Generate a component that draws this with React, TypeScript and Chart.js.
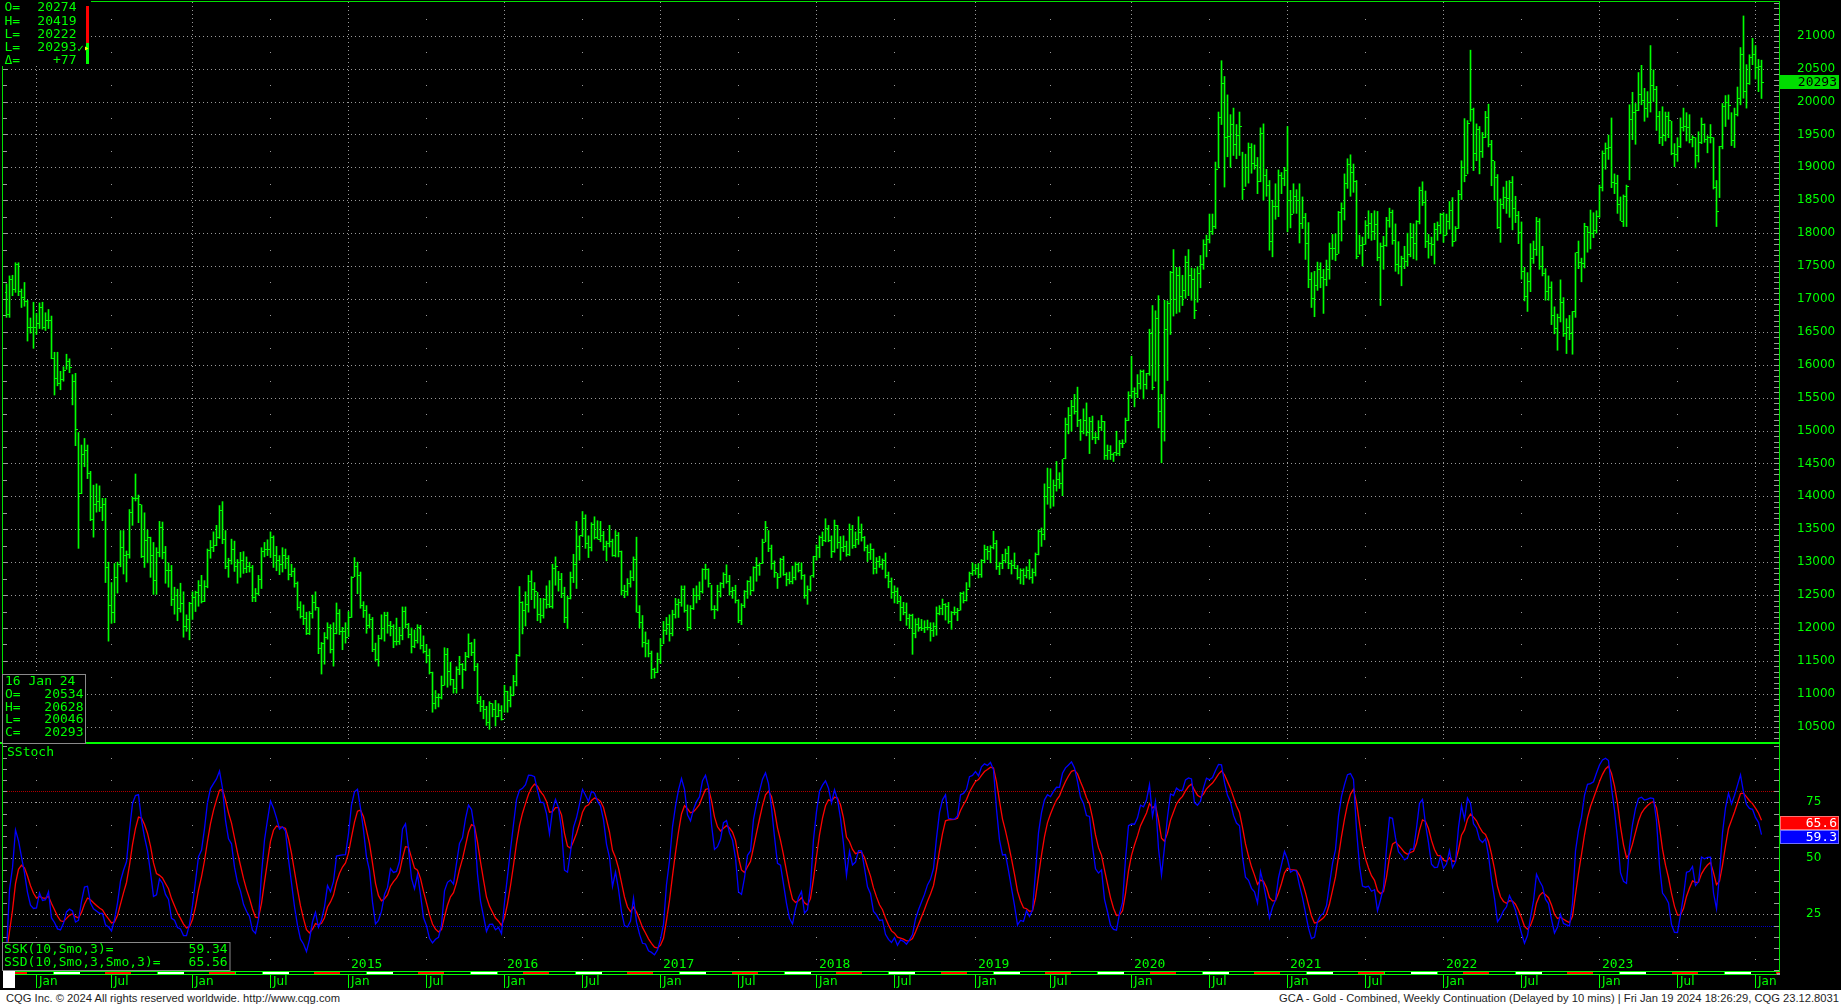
import React, { useEffect, useRef } from 'react';
import { Chart, registerables } from 'chart.js';

Chart.register(...registerables);

type HLC = [number, number, number]; // [high, low, close] of one weekly bar

// ---- weekly bars (high, low, close), first bar = week of 29 Oct 2012 ----
const w2012: HLC[] = [
  [17230, 16720, 16760], [17350, 16720, 17300], [17360, 17050, 17140], [17550, 17100, 17520], [17550, 17050, 17120],
  [17150, 16870, 17020], [17250, 16890, 16960], [16980, 16360, 16570], [16710, 16480, 16570], [16950, 16250, 16570],
];
const w2013: HLC[] = [
  [16780, 16460, 16620], [16940, 16550, 16870], [16950, 16540, 16570], [16790, 16520, 16670],
  [16840, 16550, 16670], [16740, 16090, 16090], [16190, 15540, 15790], [16190, 15680, 15720],
  [15900, 15620, 15780], [15970, 15750, 15920], [16160, 15930, 16050], [16090, 15880, 15960],
  [15850, 15390, 15750], [15870, 14770, 15010], [14970, 13210, 14050], [14780, 14040, 14630], [14880, 14450, 14700],
  [14780, 14270, 14340], [14380, 13630, 13650], [14170, 13380, 13870], [14190, 13760, 13920],
  [14160, 13770, 13830], [13970, 13630, 13880], [13970, 12690, 12920], [13000, 11800, 12340],
  [12690, 12070, 12230], [12980, 12080, 12770], [13000, 12530, 12960], [13480, 12930, 13220], [13480, 12820, 13100],
  [13170, 12700, 13120], [13800, 13060, 13760], [13990, 13560, 13960], [14340, 13930, 13960],
  [14020, 13600, 13870], [13870, 13070, 13080], [13750, 12920, 13330], [13490, 12990, 13380], [13380, 12770, 13100],
  [13300, 12510, 12720], [13220, 12510, 13150], [13620, 13080, 13520], [13610, 13050, 13150],
  [13240, 12680, 12870], [12990, 12620, 12880], [12950, 12340, 12430], [12620, 12210, 12500],
  [12590, 12110, 12300], [12680, 12240, 12370], [12550, 11860, 12030], [12200, 11950, 12130], [12390, 11820, 12370],
];
const w2014: HLC[] = [
  [12550, 12130, 12470], [12560, 12250, 12540], [12720, 12330, 12640], [12800, 12380, 12400],
  [12720, 12400, 12630], [13200, 12610, 13180], [13330, 13060, 13230], [13460, 13160, 13260],
  [13560, 13250, 13380], [13860, 13360, 13790], [13920, 13280, 13350], [13480, 12900, 12940], [13060, 12770, 13030],
  [13350, 12970, 13190], [13320, 12860, 12940], [13040, 12680, 13000], [13150, 12770, 13020],
  [13160, 12830, 12900], [13080, 12840, 12930], [13000, 12850, 12920], [12950, 12400, 12460],
  [12600, 12400, 12530], [12800, 12500, 12740], [13220, 12600, 13160], [13300, 13080, 13200], [13340, 13100, 13200],
  [13460, 13070, 13380], [13400, 12920, 13100], [13240, 12870, 13030], [13100, 12810, 12960],
  [13220, 12850, 13100], [13200, 12900, 13060], [13100, 12730, 12810], [12970, 12780, 12860],
  [12910, 12620, 12680], [12700, 12270, 12310], [12400, 12150, 12170], [12350, 12050, 12140], [12240, 11900, 11920],
  [12250, 11900, 12220], [12500, 12150, 12390], [12550, 12270, 12310], [12310, 11610, 11690],
  [11780, 11300, 11770], [11930, 11450, 11860], [12080, 11830, 12010], [12050, 11620, 11670],
  [12080, 11420, 11910], [12380, 11910, 12220], [12280, 11900, 11950], [12010, 11670, 11950], [12080, 11770, 11860],
];
const w2015: HLC[] = [
  [12250, 11870, 12160], [12780, 12160, 12770], [13070, 12780, 12930], [13000, 12520, 12790],
  [12850, 12300, 12340], [12400, 12160, 12270], [12340, 11920, 12040], [12210, 12000, 12130],
  [12160, 11640, 11670], [11770, 11500, 11520], [11890, 11420, 11840], [12200, 11830, 11990], [12240, 11800, 12190],
  [12240, 11920, 12040], [12100, 11880, 12030], [12050, 11700, 11790], [12150, 11740, 11790],
  [12010, 11750, 11890], [12320, 11820, 12250], [12320, 12000, 12050], [12070, 11850, 11900],
  [12000, 11620, 11720], [11970, 11700, 11810], [12050, 11770, 12010], [12040, 11680, 11730], [11880, 11620, 11640],
  [11750, 11470, 11580], [11680, 11300, 11330], [11330, 10720, 10850], [11050, 10770, 10950],
  [11000, 10800, 10940], [11270, 10920, 11130], [11700, 11130, 11600], [11690, 11100, 11340], [11480, 11130, 11210],
  [11220, 11010, 11080], [11410, 11010, 11370], [11570, 11290, 11450], [11460, 11080, 11370],
  [11630, 11350, 11560], [11910, 11550, 11770], [11780, 11580, 11620], [11830, 11350, 11420],
  [11460, 10850, 10880], [10960, 10730, 10810], [10900, 10620, 10760], [10810, 10520, 10570], [10880, 10460, 10850],
  [10850, 10650, 10760], [10900, 10510, 10650], [10850, 10650, 10750], [10820, 10600, 10610],
];
const w2016: HLC[] = [
  [11130, 10720, 11040], [11040, 10720, 10900], [11110, 10800, 10980], [11280, 10970, 11180],
  [11600, 11120, 11580], [12630, 11570, 12390], [12400, 11910, 12270], [12550, 12030, 12350], [12800, 12240, 12700],
  [12870, 12430, 12590], [12690, 12300, 12550], [12540, 12110, 12210], [12450, 12080, 12190],
  [12450, 12150, 12430], [12640, 12300, 12350], [12720, 12310, 12320], [12970, 12300, 12900],
  [13080, 12650, 12940], [12860, 12560, 12730], [12830, 12460, 12520], [12620, 12080, 12160], [12480, 11990, 12450],
  [12850, 12440, 12760], [13120, 12690, 12960], [13620, 12600, 13240], [13400, 13030, 13400],
  [13770, 13390, 13660], [13720, 13210, 13290], [13400, 13070, 13230], [13600, 13170, 13570],
  [13690, 13350, 13370], [13630, 13350, 13350], [13620, 13310, 13410], [13470, 13180, 13240], [13320, 13020, 13280],
  [13560, 13230, 13310], [13350, 13090, 13100], [13480, 13080, 13400], [13450, 13080, 13160],
  [13170, 12500, 12570], [12650, 12460, 12550], [12750, 12490, 12670], [12870, 12620, 12760], [13080, 12720, 13040],
  [13380, 12240, 12240], [12340, 12000, 12080], [12190, 11710, 11780], [11940, 11560, 11770],
  [11820, 11560, 11610], [11650, 11230, 11370], [11390, 11240, 11330], [11620, 11320, 11520],
];
const w2017: HLC[] = [
  [11840, 11460, 11730], [12100, 11760, 11960], [12160, 11900, 12050], [12200, 11800, 11910], [12270, 11880, 12210],
  [12450, 12150, 12350], [12440, 12160, 12390], [12640, 12330, 12580], [12640, 12240, 12260],
  [12350, 11960, 12010], [12340, 11980, 12300], [12600, 12280, 12490], [12640, 12380, 12490],
  [12700, 12430, 12550], [12900, 12530, 12890], [12970, 12740, 12890], [12900, 12620, 12680],
  [12650, 12270, 12280], [12340, 12140, 12280], [12650, 12260, 12550], [12690, 12470, 12680], [12840, 12610, 12810],
  [12960, 12680, 12710], [12800, 12500, 12560], [12620, 12450, 12570], [12650, 12380, 12420],
  [12430, 12080, 12120], [12370, 12050, 12340], [12570, 12310, 12560], [12720, 12450, 12700], [12780, 12500, 12570],
  [12930, 12560, 12920], [13070, 12710, 12950], [12980, 12800, 12980], [13350, 12980, 13300],
  [13620, 13310, 13520], [13480, 13160, 13210], [13260, 12890, 12980], [13020, 12770, 12840],
  [12830, 12600, 12770], [13060, 12770, 13040], [13090, 12800, 12820], [12840, 12640, 12730], [12850, 12670, 12700],
  [12940, 12670, 12760], [13000, 12730, 12960], [12990, 12850, 12880], [12990, 12740, 12800],
  [12810, 12450, 12490], [12640, 12360, 12580], [12790, 12560, 12790], [13090, 12770, 13090],
];
const w2018: HLC[] = [
  [13260, 13030, 13220], [13400, 13070, 13380], [13460, 13250, 13330], [13660, 13310, 13510], [13560, 13310, 13330],
  [13400, 13070, 13160], [13640, 13150, 13560], [13560, 13210, 13300], [13390, 13030, 13230],
  [13400, 13160, 13240], [13320, 13090, 13120], [13580, 13100, 13500], [13560, 13210, 13250],
  [13460, 13220, 13340], [13690, 13270, 13450], [13580, 13320, 13380], [13390, 13170, 13230], [13260, 13010, 13150],
  [13280, 13040, 13200], [13200, 12820, 12910], [13070, 12830, 13010], [13090, 12920, 12970],
  [13050, 12890, 13020], [13140, 12760, 12790], [12850, 12610, 12700], [12760, 12450, 12540],
  [12640, 12380, 12550], [12610, 12370, 12410], [12480, 12110, 12310], [12390, 12200, 12230], [12380, 12040, 12140],
  [12210, 11990, 12190], [12210, 11600, 11920], [12140, 11850, 12060], [12150, 11950, 12010],
  [12130, 11960, 11990], [12110, 11930, 12010], [12120, 11970, 12010], [12080, 11800, 11960],
  [12080, 11870, 12030], [12320, 11890, 12220], [12340, 12200, 12290], [12440, 12200, 12360], [12370, 12120, 12330],
  [12390, 12070, 12100], [12250, 11980, 12230], [12320, 12200, 12230], [12300, 12110, 12260],
  [12540, 12270, 12520], [12550, 12380, 12420], [12690, 12410, 12580], [12850, 12620, 12830], [12990, 12800, 12870],
];
const w2019: HLC[] = [
  [12970, 12810, 12910], [12980, 12760, 12820], [13040, 12770, 13030], [13260, 12990, 13200],
  [13240, 13040, 13160], [13250, 12990, 13220], [13470, 13200, 13290], [13330, 12890, 12930],
  [13000, 12810, 12980], [13120, 12900, 13030], [13200, 12990, 13130], [13240, 12900, 12980],
  [13030, 12820, 12950], [13140, 12900, 12900], [12950, 12740, 12760], [12900, 12670, 12880], [12900, 12660, 12800],
  [12930, 12760, 12870], [13040, 12740, 12770], [12900, 12680, 12850], [13140, 12790, 13110],
  [13490, 13110, 13460], [13520, 13240, 13420], [14190, 13340, 14000], [14430, 13880, 14130],
  [14420, 13820, 14000], [14250, 13850, 14160], [14530, 14080, 14260], [14360, 14120, 14190], [14560, 14010, 14570],
  [15190, 14570, 15090], [15350, 14950, 15230], [15460, 14990, 15370], [15550, 15250, 15290],
  [15660, 15060, 15150], [15170, 14850, 14990], [15330, 14950, 15150], [15420, 14920, 14970], [15200, 14650, 15130],
  [15220, 14860, 14890], [14970, 14800, 14900], [15150, 14860, 15050], [15230, 15000, 15130],
  [15140, 14560, 14620], [14780, 14560, 14690], [14770, 14560, 14630], [14660, 14530, 14660],
  [14990, 14620, 14650], [14850, 14620, 14810], [14860, 14740, 14810], [15190, 14820, 15150], [15590, 15150, 15530],
];
const w2020: HLC[] = [
  [16130, 15490, 15600], [15650, 15360, 15570], [15850, 15500, 15710], [15920, 15630, 15890],
  [15920, 15480, 15700], [15870, 15630, 15860], [16540, 15840, 16480], [16900, 15620, 15660],
  [16820, 15750, 16700], [17050, 15040, 15290], [15550, 14510, 14990], [16980, 14840, 16540], [16970, 15760, 16930],
  [17420, 16460, 17400], [17750, 16740, 16990], [17480, 16780, 17360], [17480, 16800, 17040],
  [17360, 16900, 17130], [17650, 17010, 17560], [17750, 17050, 17350], [17470, 16980, 17300],
  [17460, 16700, 16830], [17490, 16950, 17380], [17660, 17170, 17530], [17900, 17450, 17820], [17970, 17640, 17900],
  [18290, 17850, 18030], [18290, 17980, 18100], [19080, 18070, 18970], [19840, 18990, 19760],
  [20620, 19650, 20280], [20380, 18700, 19450], [20100, 19160, 19470], [19800, 19000, 19650], [19900, 19180, 19340],
  [19650, 19130, 19480], [19840, 19180, 19620], [19230, 18510, 18660], [19200, 18710, 19000],
  [19370, 18760, 19300], [19360, 18910, 19060], [19340, 18970, 19020], [19150, 18600, 18790],
  [19600, 18780, 19510], [19660, 18500, 18870], [18970, 18560, 18730], [18800, 17740, 17880], [18500, 17640, 18400],
  [18750, 18210, 18400], [18960, 18250, 18880], [18920, 18600, 18830], [19000, 18720, 18950],
];
const w2021: HLC[] = [
  [19620, 18020, 18500], [18650, 18080, 18290], [18750, 18300, 18560], [18660, 18300, 18500],
  [18750, 17850, 18140], [18550, 18070, 18230], [18300, 17600, 17840], [18160, 17170, 17300],
  [17400, 16870, 17000], [17420, 16730, 17200], [17560, 17130, 17450], [17550, 17170, 17330], [17450, 16780, 17290],
  [17590, 17200, 17450], [17850, 17300, 17770], [17980, 17600, 17770], [17990, 17580, 17680],
  [18330, 17690, 18310], [18460, 17880, 18380], [18900, 18200, 18760], [19130, 18680, 19040], [19190, 18560, 18920],
  [19050, 18620, 18790], [18800, 17610, 17640], [17970, 17680, 17810], [17940, 17500, 17830],
  [18190, 17830, 18110], [18340, 17920, 18150], [18300, 17890, 18020], [18340, 17900, 18130],
  [18330, 17580, 17630], [17850, 16900, 17790], [17950, 17450, 17810], [18240, 17800, 18190], [18380, 18090, 18320],
  [18350, 17830, 17890], [18140, 17420, 17520], [17870, 17380, 17500], [17650, 17200, 17610],
  [17800, 17460, 17570], [18000, 17500, 17670], [18150, 17640, 17930], [18140, 17610, 17840],
  [18190, 17590, 18170], [18700, 18140, 18650], [18780, 18420, 18460], [18640, 17780, 17880], [17980, 17620, 17840],
  [17940, 17660, 17830], [18150, 17530, 18050], [18170, 17890, 18110], [18300, 17990, 18280],
];
const w2022: HLC[] = [
  [18310, 17860, 17970], [18290, 17970, 18170], [18480, 18060, 18350], [18540, 17800, 17870], [18100, 17880, 18070],
  [18650, 18070, 18590], [19100, 18510, 18990], [19740, 18780, 18870], [19710, 18900, 19660],
  [20780, 19700, 19880], [19900, 18950, 19210], [19660, 19100, 19580], [19620, 18900, 19240],
  [19530, 19150, 19450], [19850, 19450, 19750], [19960, 19310, 19340], [19410, 18720, 19110],
  [19090, 18500, 18850], [18890, 18070, 18090], [18520, 17860, 18440], [18700, 18370, 18540], [18790, 18300, 18530],
  [18800, 18240, 18770], [18860, 18050, 18380], [18560, 18160, 18270], [18330, 17840, 18010],
  [18170, 17300, 17420], [17480, 16970, 17030], [17400, 16810, 17270], [17840, 17110, 17620],
  [17880, 17540, 17750], [18240, 17660, 18180], [18220, 17450, 17500], [17800, 17350, 17380], [17460, 16980, 17120],
  [17350, 16980, 17180], [17260, 16610, 16750], [16880, 16470, 16550], [16770, 16220, 16720],
  [17290, 16650, 16950], [17020, 16430, 16480], [16700, 16170, 16560], [16750, 16380, 16480], [16810, 16160, 16810],
  [17700, 16720, 17700], [17880, 17460, 17550], [17620, 17260, 17540], [18150, 17470, 18100],
  [18100, 17710, 18010], [18350, 17760, 18000], [18310, 17930, 18040], [18340, 18000, 18260],
];
const w2023: HLC[] = [
  [18730, 18240, 18700], [19250, 18640, 19210], [19370, 18970, 19290], [19490, 19120, 19300], [19750, 18690, 18770],
  [18900, 18600, 18750], [18880, 18300, 18430], [18550, 18190, 18170], [18580, 18100, 18560],
  [18730, 18100, 18710], [19950, 18810, 19730], [20140, 19420, 19830], [19970, 19350, 19860],
  [20440, 19860, 20110], [20550, 19950, 20020], [20200, 19700, 19900], [20150, 19760, 19990],
  [20850, 19840, 20250], [20480, 20000, 20190], [20230, 19560, 19770], [19850, 19360, 19450], [19920, 19330, 19480],
  [19840, 19400, 19770], [19840, 19450, 19710], [19700, 19190, 19210], [19360, 19010, 19190],
  [19450, 19090, 19320], [19750, 19300, 19610], [19900, 19550, 19620], [19830, 19400, 19600], [19800, 19370, 19420],
  [19480, 19310, 19460], [19450, 18990, 19180], [19540, 19080, 19380], [19750, 19360, 19650],
  [19660, 19380, 19430], [19480, 19220, 19460], [19650, 19370, 19450], [19450, 18670, 18700],
  [18800, 18100, 18330], [19320, 18540, 19320], [19970, 19280, 19930], [20090, 19620, 19990], [20100, 19730, 19940],
  [19830, 19330, 19400], [19900, 19300, 19810], [20220, 19780, 20050], [20820, 19950, 20720],
  [21300, 20050, 20150], [20560, 19900, 20280], [20710, 20260, 20670], [20960, 20560, 20720],
];
const w2024: HLC[] = [
  [20850, 20340, 20520], [20640, 20150, 20534], [20628, 20046, 20293],
];
const FIRST_OPEN = 17100;
const FIRST_WEEK = Date.UTC(2012, 9, 29);

// ---- axis / label data ----
const priceTickValues = [10500, 11000, 11500, 12000, 12500, 13000, 13500, 14000, 14500, 15000, 15500, 16000,
  16500, 17000, 17500, 18000, 18500, 19000, 19500, 20000, 20500, 21000];
const stochTickValues = [25, 50, 75];
const stochOverbought = 80;
const stochOversold = 20;
const yearLabels = ['2015', '2016', '2017', '2018', '2019', '2020', '2021', '2022', '2023'];
const dailyLabels = ['O=', 'H=', 'L=', 'L=', '\u0394='];
const dailyValues = ['20274', '20419', '20222', '20293', '+77'];
const lastBarLabels = ['O=', 'H=', 'L=', 'C='];
const lastBarValues = ['20534', '20628', '20046', '20293'];
const lastBarDate = '16 Jan 24';
const stochNames = ['SSK(10,Smo,3)=', 'SSD(10,Smo,3,Smo,3)='];
const stochValues = [59.34, 65.56];
const STOCH_PERIOD = 10;
const STOCH_SMOOTH = 3;

// ---- derived series ----
const bars: HLC[] = [...w2012, ...w2013, ...w2014, ...w2015, ...w2016, ...w2017, ...w2018, ...w2019,
  ...w2020, ...w2021, ...w2022, ...w2023, ...w2024];
const highs = bars.map((b) => b[0]);
const lows = bars.map((b) => b[1]);
const closes = bars.map((b) => b[2]);
const opens = closes.map((c, i) => (i === 0 ? FIRST_OPEN : closes[i - 1]));
const weekDates = bars.map((_, i) => new Date(FIRST_WEEK + i * 7 * 86400000));

const monthTicks: { i: number; label: string; year: number }[] = [];
weekDates.forEach((d, i) => {
  const m = d.getUTCMonth();
  const pm = i > 0 ? weekDates[i - 1].getUTCMonth() : -1;
  if ((m === 0 || m === 6) && m !== pm) monthTicks.push({ i, label: m === 0 ? 'Jan' : 'Jul', year: d.getUTCFullYear() });
});

function smooth(src: number[], n: number): number[] {
  const out: number[] = [];
  let prev: number | null = null;
  for (const v of src) {
    prev = prev === null ? v : (prev * (n - 1) + v) / n;
    out.push(prev);
  }
  return out;
}
const rawK = closes.map((c, i) => {
  const s = Math.max(0, i - STOCH_PERIOD + 1);
  const hh = Math.max(...highs.slice(s, i + 1));
  const ll = Math.min(...lows.slice(s, i + 1));
  return hh === ll ? 50 : (100 * (c - ll)) / (hh - ll);
});
const ssk = smooth(rawK, STOCH_SMOOTH);
const ssd = smooth(ssk, STOCH_SMOOTH);

// ---- styling ----
const GREEN = '#00ff00';
const FRAME = '#00e000';
const GRID = '#9a9a9a';
const BOXLINE = '#8a8a8a';
const MONO = '13px "DejaVu Sans Mono", "Liberation Mono", monospace';
const SANS = '12px "DejaVu Sans", sans-serif';
const X_MIN = -7 / 6;
const X_MAX = 590 + 5 / 6;

const col = (x: any, i: number) => Math.round(x.getPixelForValue(i) - 0.5);

const pricePlugin = {
  id: 'pricePanel',
  beforeDraw(chart: any) {
    const ctx = chart.ctx;
    ctx.save();
    ctx.fillStyle = '#000';
    ctx.fillRect(0, 0, chart.width, chart.height);
    ctx.restore();
  },
  beforeDatasetsDraw(chart: any) {
    const { ctx, chartArea: a, scales } = chart;
    const x = scales.x, y = scales.y;
    ctx.save();
    ctx.strokeStyle = GRID;
    ctx.lineWidth = 1;
    ctx.setLineDash([1, 3]);
    ctx.beginPath();
    for (const v of priceTickValues) {
      const py = Math.round(y.getPixelForValue(v)) + 0.5;
      ctx.moveTo(a.left, py);
      ctx.lineTo(a.right, py);
    }
    for (const t of monthTicks) {
      if (t.label !== 'Jan') continue;
      const px = col(x, t.i) + 0.5;
      ctx.moveTo(px, a.top);
      ctx.lineTo(px, a.bottom);
    }
    ctx.stroke();
    ctx.setLineDash([]);
    ctx.fillStyle = GRID;
    for (const t of monthTicks) {
      if (t.label !== 'Jul') continue;
      const px = col(x, t.i);
      for (let v = priceTickValues[0] - 250; v < y.max; v += 500) {
        const py = Math.round(y.getPixelForValue(v));
        if (py > a.top && py < a.bottom) ctx.fillRect(px, py, 1, 1);
      }
    }
    for (let v = priceTickValues[0] - 250; v < y.max; v += 250) {
      const py = Math.round(y.getPixelForValue(v));
      if (py > a.top && py < a.bottom) ctx.fillRect(a.left, py, 4, 1);
    }
    for (let v = priceTickValues[0] - 500; v < y.max; v += 500 / 6) {
      const py = Math.round(y.getPixelForValue(v));
      if (py > a.top && py < a.bottom) ctx.fillRect(a.right - 5, py, 5, 1);
    }
    ctx.restore();
  },
  afterDatasetsDraw(chart: any) {
    const { ctx, scales } = chart;
    const x = scales.x, y = scales.y;
    ctx.save();
    ctx.fillStyle = GREEN;
    for (let i = 0; i < closes.length; i++) {
      const c = col(x, i);
      ctx.fillRect(c - 1, Math.round(y.getPixelForValue(opens[i]) - 0.5), 1, 1);
      ctx.fillRect(c + 1, Math.round(y.getPixelForValue(closes[i]) - 0.5), 2, 1);
    }
    ctx.restore();
  },
  afterDraw(chart: any) {
    const { ctx, chartArea: a, scales } = chart;
    const y = scales.y;
    ctx.save();
    // frame
    ctx.fillStyle = FRAME;
    ctx.fillRect(a.left - 1, a.top - 1, a.right - a.left + 2, 1);
    ctx.fillRect(a.left - 1, a.top - 1, 1, a.bottom - a.top + 1);
    ctx.fillRect(a.right, a.top - 1, 1, a.bottom - a.top + 1);
    ctx.fillStyle = GREEN;
    ctx.fillRect(0, a.bottom, a.right + 1, 2);

    // daily info (top-left)
    ctx.fillStyle = '#000';
    ctx.fillRect(0, 0, 91, 66);
    ctx.font = MONO;
    ctx.textBaseline = 'middle';
    const rows = [8, 21.5, 35, 48, 61];
    ctx.fillStyle = GREEN;
    dailyLabels.forEach((l, k) => {
      ctx.textAlign = 'left';
      ctx.fillText(l, 4.5, rows[k]);
      ctx.textAlign = 'right';
      ctx.fillText(dailyValues[k], 76.5, rows[k]);
    });
    ctx.textAlign = 'left';
    ctx.font = '10px "DejaVu Sans", sans-serif';
    ctx.fillText('\u2713', 76.5, rows[3] + 1);
    ctx.fillStyle = '#ff0000';
    ctx.fillRect(86, 6, 3, 37);
    ctx.fillStyle = GREEN;
    ctx.fillRect(86, 43, 3, 21);
    ctx.fillStyle = '#ffff00';
    ctx.beginPath();
    ctx.moveTo(85, 46.5);
    ctx.lineTo(88.5, 48.5);
    ctx.lineTo(85, 50.5);
    ctx.closePath();
    ctx.fill();

    // last bar info (bottom-left)
    ctx.fillStyle = '#000';
    ctx.fillRect(2, 674, 84, 70);
    ctx.strokeStyle = BOXLINE;
    ctx.lineWidth = 1;
    ctx.strokeRect(2.5, 674.5, 83, 69);
    ctx.font = MONO;
    ctx.fillStyle = GREEN;
    ctx.textAlign = 'left';
    ctx.fillText(lastBarDate, 5, 682);
    const rows2 = [694.7, 707.3, 720, 733];
    lastBarLabels.forEach((l, k) => {
      ctx.textAlign = 'left';
      ctx.fillText(l, 5, rows2[k]);
      ctx.textAlign = 'right';
      ctx.fillText(lastBarValues[k], 83.5, rows2[k]);
    });

    // current price box
    const last = closes[closes.length - 1];
    const py = Math.round(y.getPixelForValue(last));
    ctx.fillStyle = '#00dd00';
    ctx.fillRect(a.right + 1, py - 7, 59, 14);
    ctx.fillStyle = '#000';
    ctx.font = MONO;
    ctx.textAlign = 'right';
    ctx.fillText(String(last), 1837, py + 0.5);
    ctx.restore();
  },
};

const stochPlugin = {
  id: 'stochPanel',
  beforeDraw(chart: any) {
    const ctx = chart.ctx;
    ctx.save();
    ctx.fillStyle = '#000';
    ctx.fillRect(0, 0, chart.width, chart.height);
    ctx.restore();
  },
  beforeDatasetsDraw(chart: any) {
    const { ctx, chartArea: a, scales } = chart;
    const x = scales.x, y = scales.y;
    ctx.save();
    ctx.lineWidth = 1;
    ctx.setLineDash([1, 3]);
    ctx.strokeStyle = GRID;
    ctx.beginPath();
    for (const v of stochTickValues) {
      const py = Math.round(y.getPixelForValue(v)) + 0.5;
      ctx.moveTo(a.left, py);
      ctx.lineTo(a.right, py);
    }
    ctx.stroke();
    ctx.setLineDash([1, 1]);
    ctx.strokeStyle = '#b00000';
    ctx.beginPath();
    let py = Math.round(y.getPixelForValue(stochOverbought)) + 0.5;
    ctx.moveTo(a.left, py);
    ctx.lineTo(a.right, py);
    ctx.stroke();
    ctx.strokeStyle = '#0000c8';
    ctx.beginPath();
    py = Math.round(y.getPixelForValue(stochOversold)) + 0.5;
    ctx.moveTo(a.left, py);
    ctx.lineTo(a.right, py);
    ctx.stroke();
    ctx.setLineDash([]);
    ctx.fillStyle = GRID;
    for (const t of monthTicks) {
      const px = col(x, t.i);
      for (let v = 5; v < 100; v += 10) ctx.fillRect(px, Math.round(y.getPixelForValue(v)), 1, 1);
    }
    for (let v = 0; v <= 100; v += 5) {
      const p = Math.round(y.getPixelForValue(v));
      if (p > a.top && p < a.bottom) {
        ctx.fillRect(a.left, p, 4, 1);
        ctx.fillRect(a.right - 5, p, 5, 1);
      }
    }
    ctx.restore();
  },
  afterDraw(chart: any) {
    const { ctx, chartArea: a, scales } = chart;
    const x = scales.x, y = scales.y;
    ctx.save();
    ctx.fillStyle = FRAME;
    ctx.fillRect(a.left - 1, a.top, 1, a.bottom - a.top);
    ctx.fillRect(a.right, a.top, 1, a.bottom - a.top);

    ctx.font = MONO;
    ctx.textBaseline = 'middle';
    ctx.textAlign = 'left';
    ctx.fillStyle = GREEN;
    ctx.fillText('SStoch', 7, 8.7);

    // time strip
    const band = a.bottom;
    ctx.fillStyle = GREEN;
    ctx.fillRect(a.left, band, a.right - a.left + 1, 4);
    for (let k = -1; k < 20; k++) {
      const r0 = 0.55 + 104.45 * k;
      const w0 = 53.6 + 104.45 * k;
      ctx.fillStyle = '#ff0000';
      ctx.fillRect(Math.max(a.left, Math.round(r0)), band + 1, 26, 2);
      ctx.fillStyle = '#000';
      ctx.fillRect(Math.max(a.left, Math.round(r0 + 26.1)), band + 1, 26, 2);
      ctx.fillStyle = '#ffffff';
      ctx.fillRect(Math.max(a.left, Math.round(w0)), band + 1, 26, 2);
      ctx.fillStyle = '#000';
      ctx.fillRect(Math.max(a.left, Math.round(w0 + 26.1)), band + 1, 26, 2);
    }
    ctx.fillStyle = '#000';
    ctx.fillRect(a.right + 1, band, 70, 6);
    ctx.fillStyle = GRID;
    ctx.fillRect(a.right - 2, band + 2, 3, 2);
    ctx.fillStyle = '#ffffff';
    ctx.fillRect(3, band - 2, 12, 19);

    ctx.fillStyle = GREEN;
    for (const t of monthTicks) {
      const px = col(x, t.i);
      ctx.fillRect(px, band + 4, 1, 13);
      ctx.font = SANS;
      ctx.fillText(t.label, px + 3, band + 11);
      const yl = String(t.year);
      if (t.label === 'Jan' && yearLabels.includes(yl)) {
        ctx.font = MONO;
        ctx.fillText(yl, px + 3, band - 6.5);
      }
    }

    // SSK / SSD box
    ctx.fillStyle = '#000';
    ctx.fillRect(2, 198, 229, 29);
    ctx.strokeStyle = BOXLINE;
    ctx.lineWidth = 1;
    ctx.strokeRect(2.5, 198.5, 227.5, 28);
    ctx.font = MONO;
    ctx.fillStyle = GREEN;
    const rr = [206, 218.7];
    stochNames.forEach((n, k) => {
      ctx.textAlign = 'left';
      ctx.fillText(n, 4, rr[k]);
      ctx.textAlign = 'right';
      ctx.fillText(stochValues[k].toFixed(2), 227.7, rr[k]);
    });

    // value boxes on the right axis
    const boxes = [
      { v: stochValues[1], fill: '#ff0000', line: '#ff7070' },
      { v: stochValues[0], fill: '#0000ff', line: '#7070ff' },
    ];
    for (const b of boxes) {
      const p = Math.round(y.getPixelForValue(b.v));
      ctx.fillStyle = b.fill;
      ctx.fillRect(a.right + 1, p - 7, 59, 14);
      ctx.strokeStyle = b.line;
      ctx.strokeRect(a.right + 1.5, p - 6.5, 58, 13);
      ctx.fillStyle = '#ffffff';
      ctx.textAlign = 'right';
      ctx.fillText(b.v.toFixed(1), 1837, p + 0.5);
    }
    ctx.restore();
  },
};

function fixedAxisWidth(scale: any) {
  scale.width = 62;
  scale.paddingTop = 0;
  scale.paddingBottom = 0;
}

export default function App() {
  const priceRef = useRef<HTMLCanvasElement>(null);
  const stochRef = useRef<HTMLCanvasElement>(null);

  useEffect(() => {
    document.body.style.margin = '0';
    document.body.style.background = '#ffffff';

    const priceChart = new Chart(priceRef.current as HTMLCanvasElement, {
      type: 'bar',
      data: {
        datasets: [
          {
            label: 'GCA weekly range',
            data: bars.map((b, i) => ({ x: i, y: [lows[i], highs[i]] })) as any,
            backgroundColor: GREEN,
            borderWidth: 0,
            barThickness: 1,
            grouped: false,
          } as any,
        ],
      },
      options: {
        animation: false,
        responsive: false,
        events: [],
        layout: { padding: { left: 3, top: 2, right: 0, bottom: 2 } },
        plugins: { legend: { display: false }, tooltip: { enabled: false } },
        scales: {
          x: { type: 'linear', min: X_MIN, max: X_MAX, display: false, offset: false, grid: { offset: false } } as any,
          y: {
            type: 'linear',
            position: 'right',
            min: 10267.5,
            max: 21512,
            beginAtZero: false,
            grid: { display: false, drawTicks: false },
            border: { display: false },
            afterBuildTicks: (s: any) => { s.ticks = priceTickValues.map((v) => ({ value: v })); },
            afterFit: fixedAxisWidth,
            ticks: {
              autoSkip: false,
              padding: 18,
              color: GREEN,
              font: { family: '"DejaVu Sans", sans-serif', size: 12 },
              callback: (v: any) => String(v),
            },
          } as any,
        },
      },
      plugins: [pricePlugin],
    });

    const stochChart = new Chart(stochRef.current as HTMLCanvasElement, {
      type: 'line',
      data: {
        datasets: [
          {
            label: 'SSK',
            data: ssk.map((v, i) => ({ x: i, y: v })),
            borderColor: '#0000ff',
            borderWidth: 1.3,
            pointRadius: 0,
            tension: 0,
          },
          {
            label: 'SSD',
            data: ssd.map((v, i) => ({ x: i, y: v })),
            borderColor: '#ff0000',
            borderWidth: 1.3,
            pointRadius: 0,
            tension: 0,
          },
        ],
      },
      options: {
        animation: false,
        responsive: false,
        events: [],
        layout: { padding: { left: 3, top: 0, right: 0, bottom: 19 } },
        plugins: { legend: { display: false }, tooltip: { enabled: false } },
        scales: {
          x: { type: 'linear', min: X_MIN, max: X_MAX, display: false } as any,
          y: {
            type: 'linear',
            position: 'right',
            min: -0.31,
            max: 101.03,
            grid: { display: false, drawTicks: false },
            border: { display: false },
            afterBuildTicks: (s: any) => { s.ticks = stochTickValues.map((v) => ({ value: v })); },
            afterFit: fixedAxisWidth,
            ticks: {
              autoSkip: false,
              padding: 27,
              color: GREEN,
              font: { family: '"DejaVu Sans", sans-serif', size: 12 },
              callback: (v: any) => String(v),
            },
          } as any,
        },
      },
      plugins: [stochPlugin],
    });

    return () => {
      priceChart.destroy();
      stochChart.destroy();
    };
  }, []);

  const footerFont = '11.2px "Liberation Sans", Arial, sans-serif';
  return (
    <div style={{ position: 'relative', width: 1841, height: 1008, background: '#ffffff', overflow: 'hidden' }}>
      <canvas ref={priceRef} width={1841} height={744} style={{ position: 'absolute', left: 0, top: 0 }} />
      <canvas ref={stochRef} width={1841} height={246} style={{ position: 'absolute', left: 0, top: 744 }} />
      <div style={{ position: 'absolute', left: 0, top: 990, width: 1841, height: 18, background: '#ffffff' }}>
        <span style={{ position: 'absolute', left: 6, top: 2, font: footerFont, color: '#1e1e1e', whiteSpace: 'nowrap' }}>
          CQG Inc. © 2024 All rights reserved worldwide. http://www.cqg.com
        </span>
        <span style={{ position: 'absolute', right: 2, top: 2, font: footerFont, color: '#1e1e1e', whiteSpace: 'nowrap' }}>
          GCA - Gold - Combined, Weekly Continuation (Delayed by 10 mins) | Fri Jan 19 2024 18:26:29, CQG 23.12.8031
        </span>
      </div>
    </div>
  );
}
